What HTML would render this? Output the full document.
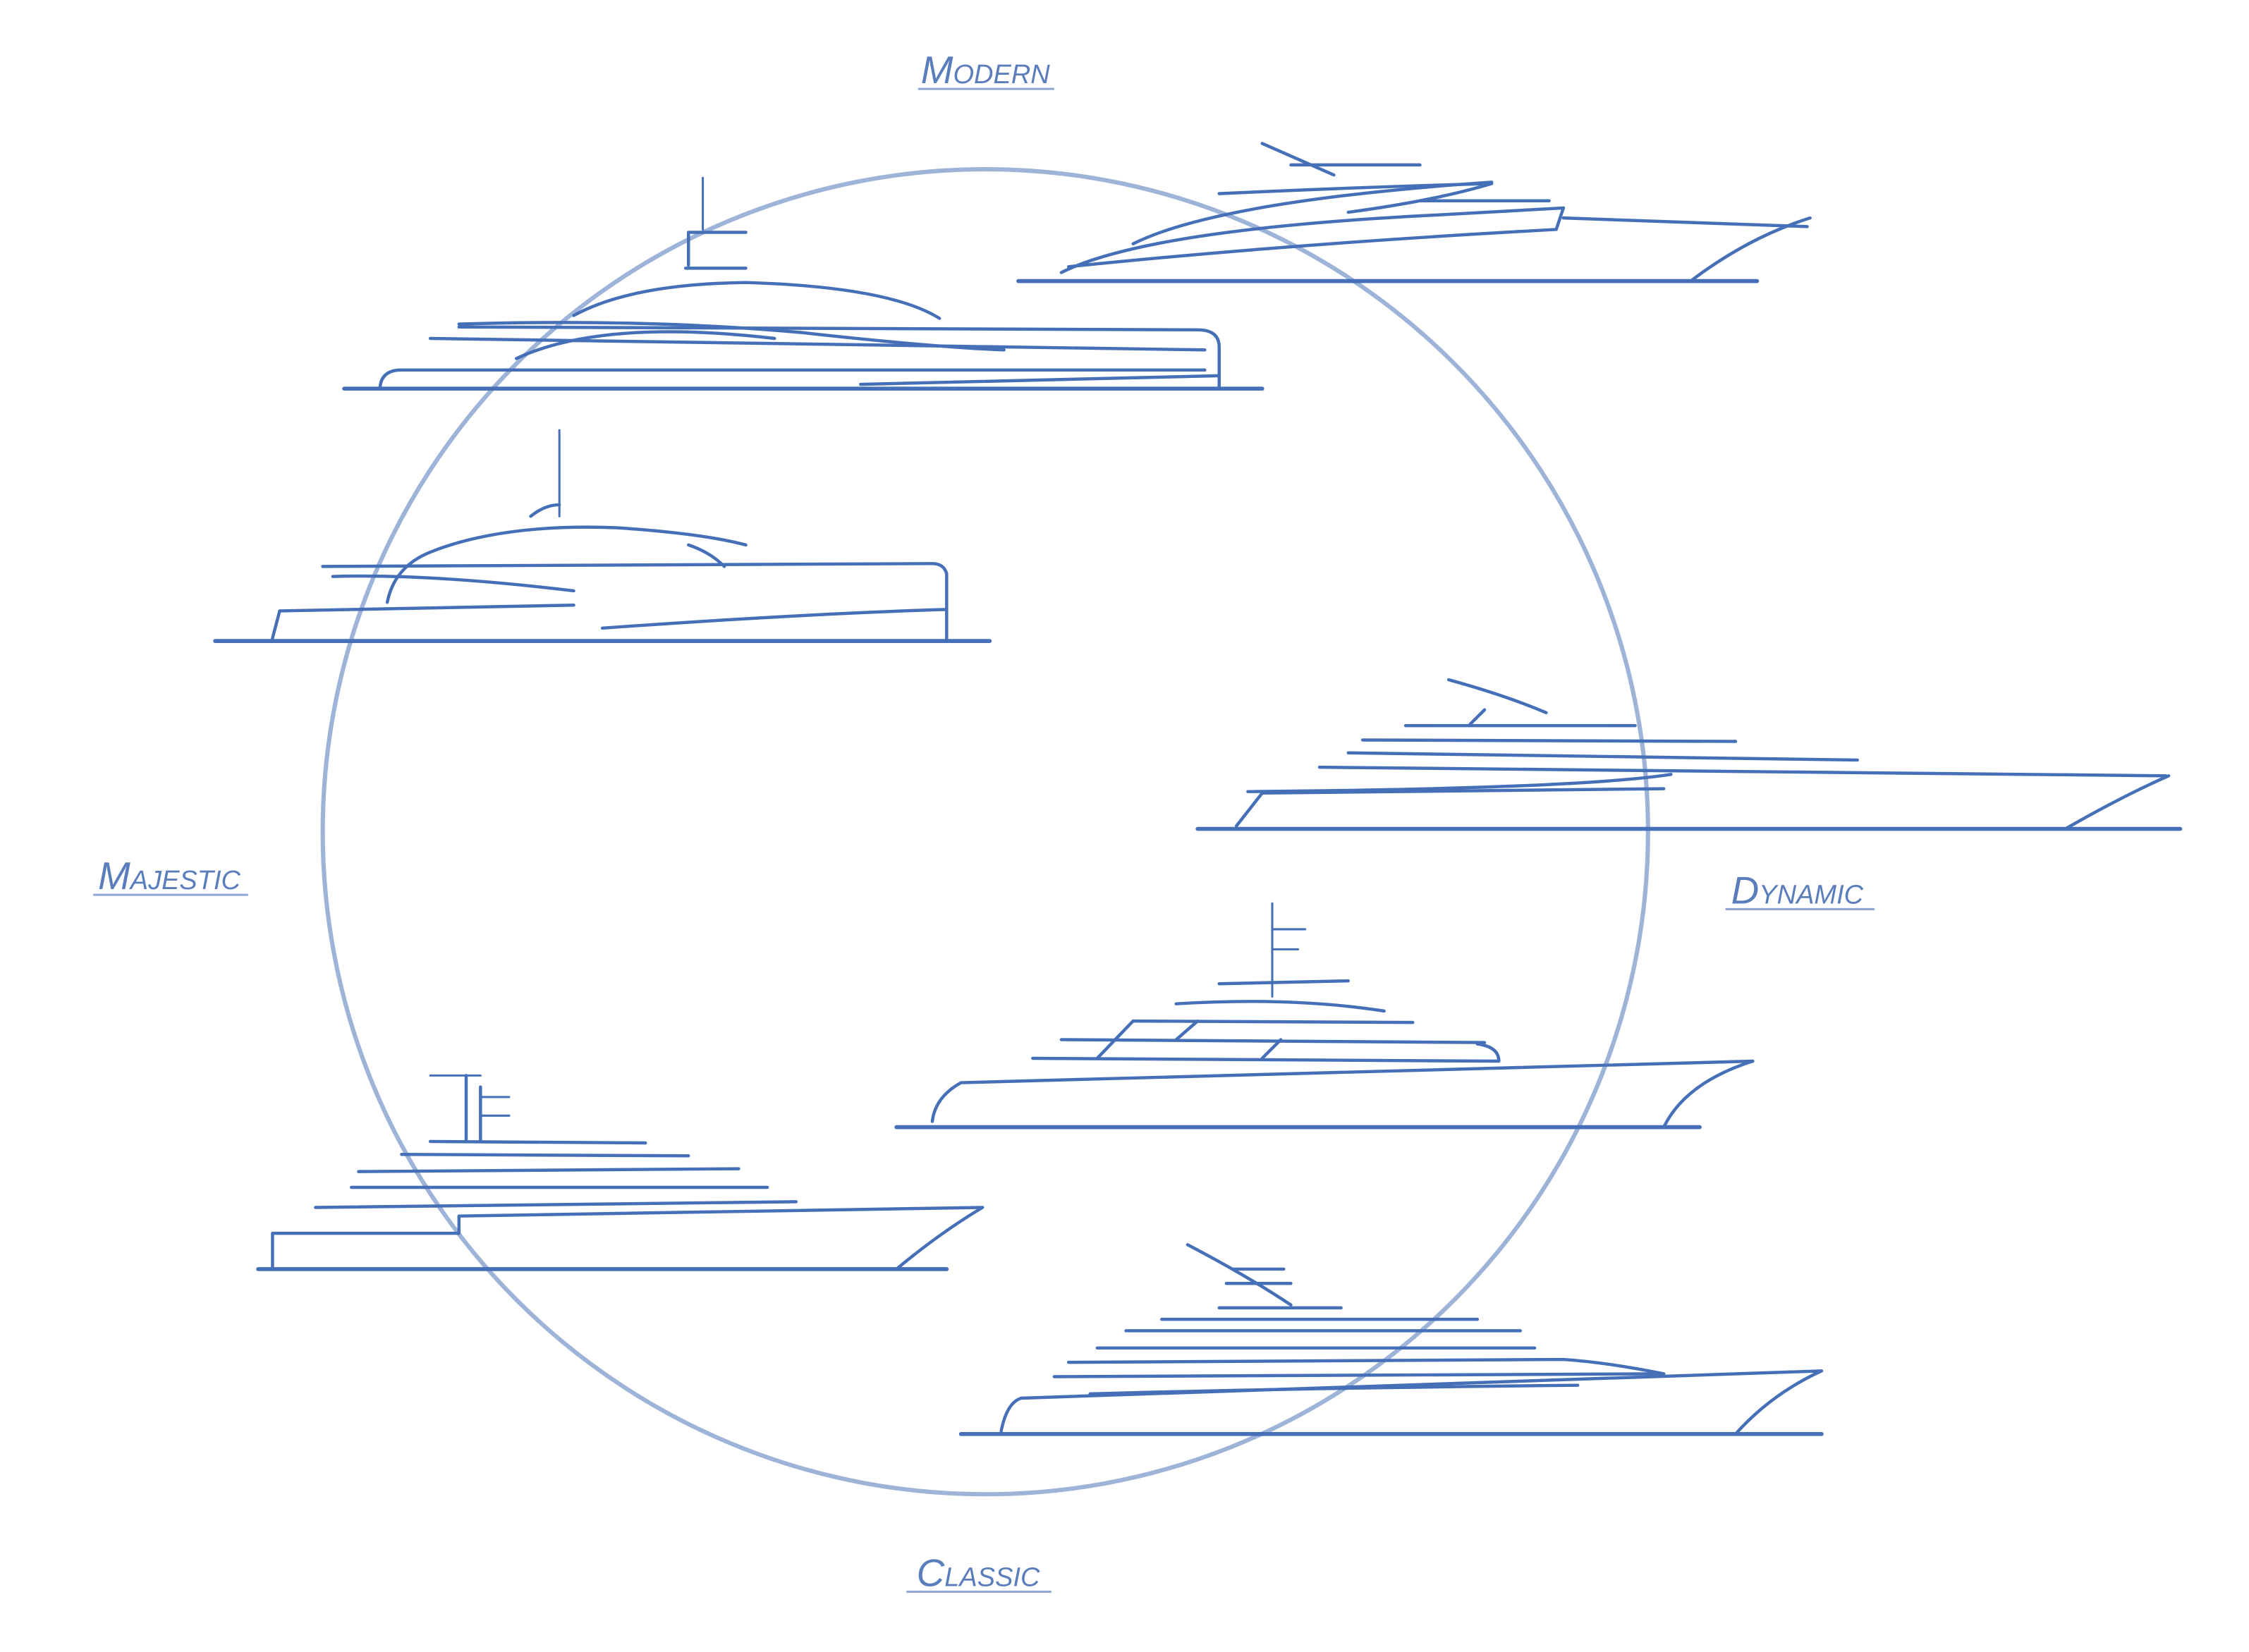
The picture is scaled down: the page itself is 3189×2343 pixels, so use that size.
<!DOCTYPE html>
<html><head><meta charset="utf-8">
<style>
html,body{margin:0;padding:0;background:#fff;}
svg{display:block;}
.y path,.y line{fill:none;stroke:#4570b8;stroke-width:2.2;stroke-linecap:round;stroke-linejoin:round;}
.y .w{stroke-width:2.8;}
.y .t{stroke-width:1.5;}
text{font-family:"Liberation Sans",sans-serif;font-style:italic;font-variant:small-caps;fill:#5a7dbb;font-size:27px;}
.u{stroke:#8fa7d2;stroke-width:1.5;}
</style></head><body>
<svg width="3189" height="2343" viewBox="0 0 1568 1152" xmlns="http://www.w3.org/2000/svg">
<ellipse cx="687" cy="580" rx="462" ry="462" fill="none" stroke="#9db3d8" stroke-width="3"/>
<text x="687" y="58" text-anchor="middle">Modern</text>
<line class="u" x1="640" y1="62" x2="735" y2="62"/>
<text x="118" y="620" text-anchor="middle">Majestic</text>
<line class="u" x1="65" y1="624" x2="173" y2="624"/>
<text x="1253" y="630" text-anchor="middle">Dynamic</text>
<line class="u" x1="1203" y1="634" x2="1307" y2="634"/>
<text x="682" y="1106" text-anchor="middle">Classic</text>
<line class="u" x1="632" y1="1110" x2="733" y2="1110"/>
<g class="y">
<!-- yacht 1 -->
<line class="w" x1="240" y1="271" x2="880" y2="271"/>
<path d="M265 270 Q266 258 280 258 L840 258"/>
<path d="M850 270 L850 242 Q850 230 835 230 L320 228"/>
<path d="M300 236 L840 244"/>
<path d="M320 226 Q450 222 560 232 Q650 242 700 244"/>
<path d="M360 250 Q420 222 540 236"/>
<path d="M400 220 Q440 198 520 197 Q620 200 655 222"/>
<path d="M480 185 L480 162 L520 162"/>
<path d="M478 187 L520 187"/>
<line class="t" x1="490" y1="124" x2="490" y2="160"/>
<path d="M600 268 L850 262"/>
<!-- yacht 2 -->
<line class="w" x1="710" y1="196" x2="1225" y2="196"/>
<path d="M740 190 Q800 160 1000 150 L1090 145"/>
<path d="M745 186 Q900 170 1085 160 L1090 145"/>
<path d="M1090 152 L1260 158"/>
<path d="M1180 195 Q1220 165 1262 152"/>
<path d="M790 170 Q850 140 1040 127"/>
<path d="M850 135 Q960 130 1040 128 Q1000 140 940 148"/>
<path d="M880 100 L930 122"/>
<path d="M900 115 L990 115"/>
<path d="M990 140 L1080 140"/>
<!-- yacht 3 -->
<line class="w" x1="150" y1="447" x2="690" y2="447"/>
<path d="M190 445 L195 426 L400 422"/>
<path d="M420 438 Q560 428 660 425 L660 400 Q658 393 650 393 L225 395"/>
<path d="M232 402 Q300 400 400 412"/>
<path d="M270 420 Q275 395 300 385 Q350 365 430 368 Q490 372 520 380"/>
<path d="M370 360 Q380 352 390 352"/>
<line class="t" x1="390" y1="300" x2="390" y2="360"/>
<path d="M480 380 Q495 385 505 395"/>
<line x1="660" y1="425" x2="660" y2="447"/>
<!-- yacht 4 -->
<line class="w" x1="835" y1="578" x2="1520" y2="578"/>
<path d="M862 576 L880 553 L1160 550"/>
<path d="M870 552 Q1100 550 1165 540"/>
<path d="M1440 578 Q1480 555 1512 541"/>
<path d="M920 535 L1510 541"/>
<path d="M940 525 L1295 530"/>
<path d="M950 516 L1210 517"/>
<path d="M980 506 L1140 506"/>
<path d="M1010 474 Q1050 485 1078 497"/>
<path d="M1025 505 L1035 495"/>
<!-- yacht 5 -->
<line class="w" x1="625" y1="786" x2="1185" y2="786"/>
<path d="M650 782 Q652 765 670 755 L1222 740"/>
<path d="M1160 786 Q1175 755 1222 740"/>
<path d="M720 738 L1045 740 Q1045 730 1030 728"/>
<path d="M740 725 L1035 727"/>
<path d="M790 712 L985 713"/>
<path d="M820 700 Q900 695 965 705"/>
<path d="M850 686 L940 684"/>
<line class="t" x1="887" y1="630" x2="887" y2="695"/>
<line class="t" x1="887" y1="648" x2="910" y2="648"/>
<line class="t" x1="887" y1="662" x2="905" y2="662"/>
<path d="M765 738 L790 712 M820 725 L835 712 M880 738 L893 725"/>
<!-- yacht 6 -->
<line class="w" x1="180" y1="885" x2="660" y2="885"/>
<path d="M190 884 L190 860 L320 860 L320 848 L685 842"/>
<path d="M625 885 Q655 860 685 842"/>
<path d="M220 842 L555 838"/>
<path d="M245 828 L535 828"/>
<path d="M250 817 L515 815"/>
<path d="M280 805 L480 806"/>
<path d="M300 796 L450 797"/>
<line x1="325" y1="750" x2="325" y2="796"/>
<line x1="335" y1="758" x2="335" y2="796"/>
<line class="t" x1="300" y1="750" x2="335" y2="750"/>
<line class="t" x1="335" y1="765" x2="355" y2="765"/>
<line class="t" x1="335" y1="778" x2="355" y2="778"/>
<!-- yacht 7 -->
<line class="w" x1="670" y1="1000" x2="1270" y2="1000"/>
<path d="M698 998 Q702 978 712 975 L1270 956"/>
<path d="M1210 1000 Q1235 972 1270 956"/>
<path d="M735 960 L1160 958"/>
<path d="M745 950 L1090 948 Q1120 950 1160 958"/>
<path d="M765 940 L1070 940"/>
<path d="M785 928 L1060 928"/>
<path d="M810 920 L1030 920"/>
<path d="M850 912 L935 912"/>
<path d="M828 868 Q870 890 900 910"/>
<path d="M860 885 L895 885 M855 895 L900 895"/>
<path d="M760 972 Q900 968 1100 966"/>
</g>
</svg>
</body></html>
